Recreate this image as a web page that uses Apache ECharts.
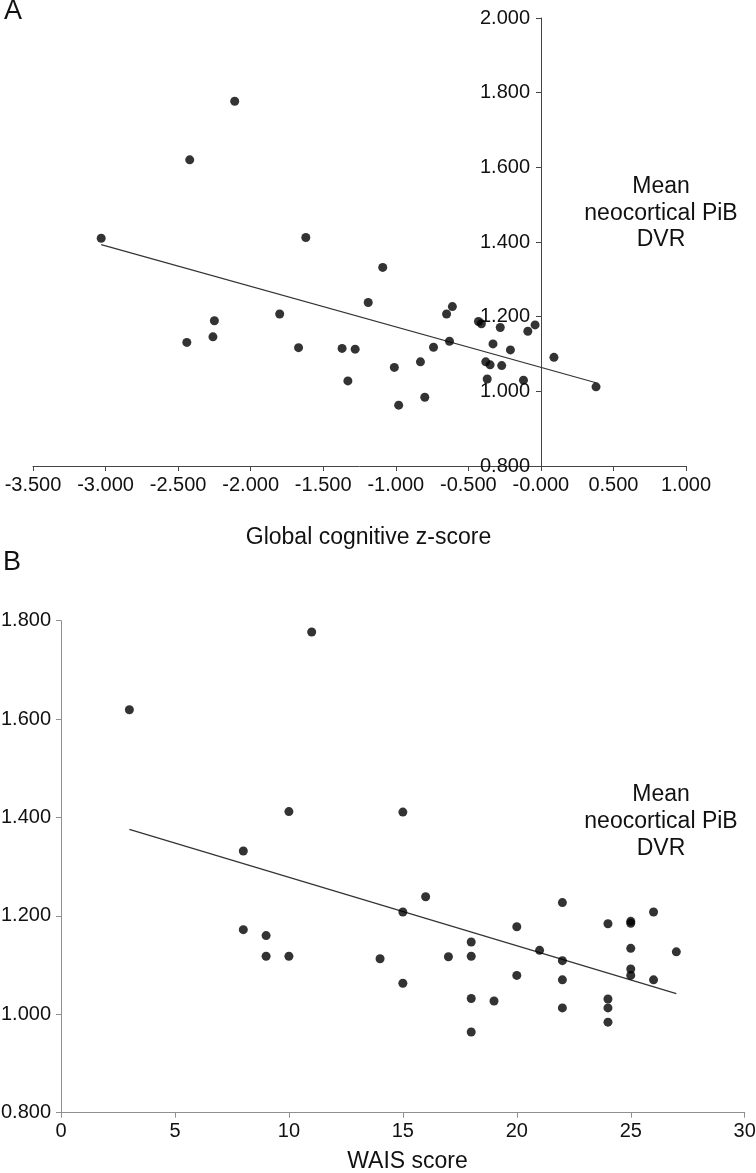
<!DOCTYPE html>
<html>
<head>
<meta charset="utf-8">
<script src="https://cdn.jsdelivr.net/npm/echarts@6/dist/echarts.min.js"></script>
<style>
html,body{margin:0;padding:0;background:#fff;}
#chart{width:756px;height:1173px;}
</style>
</head>
<body>
<div id="chart"></div>
<script>
// ---- Panel A data: global cognitive z-score vs mean neocortical PiB DVR ----
var zScoreA = [-3.03,-2.44,-2.42,-2.26,-2.25,-2.11,-1.80,-1.67,-1.62,-1.37,-1.33,-1.28,-1.19,-1.09,-1.01,-0.98,-0.83,-0.80,-0.74,-0.65,-0.63,-0.61,-0.43,-0.41,-0.38,-0.37,-0.35,-0.33,-0.28,-0.27,-0.21,-0.12,-0.09,-0.04,0.09,0.38];
var dvrA    = [1.410,1.131,1.620,1.146,1.189,1.777,1.207,1.117,1.412,1.115,1.028,1.113,1.238,1.332,1.064,0.963,1.079,0.984,1.118,1.207,1.134,1.227,1.187,1.181,1.079,1.033,1.071,1.127,1.171,1.069,1.111,1.030,1.161,1.178,1.091,1.012];
var trendXA = [-3.03, 0.38];
var trendYA = [1.393, 1.023];
var xTicksA = ['-3.500','-3.000','-2.500','-2.000','-1.500','-1.000','-0.500','-0.000','0.500','1.000'];
var yTicksA = ['0.800','1.000','1.200','1.400','1.600','1.800','2.000'];

// ---- Panel B data: WAIS score vs mean neocortical PiB DVR ----
var waisB = [3,11,10,10,8,8,9,9,14,15,15,15,16,17,18,18,18,18,19,20,20,21,22,22,22,22,24,24,24,24,25,25,25,25,25,26,26,27];
var dvrB  = [1.619,1.777,1.412,1.118,1.332,1.172,1.160,1.118,1.113,1.411,1.208,1.063,1.239,1.117,1.147,1.118,1.032,0.964,1.027,1.178,1.079,1.130,1.227,1.109,1.070,1.013,1.184,1.031,1.013,0.984,1.189,1.185,1.134,1.092,1.079,1.208,1.070,1.127];
var trendXB = [3, 27];
var trendYB = [1.376, 1.042];
var xTicksB = ['0','5','10','15','20','25','30'];
var yTicksB = ['0.800','1.000','1.200','1.400','1.600','1.800'];

var panelLabels = ['A','B'];
var yNameLines = ['Mean','neocortical PiB','DVR'];
var xNameA = 'Global cognitive z-score';
var xNameB = 'WAIS score';

function zip(a,b){ return a.map(function(v,i){ return [v,b[i]]; }); }
function tickFmt(arr, min, step){
  return function(v){ var i = Math.round((v-min)/step); return arr[i] !== undefined ? arr[i] : ''; };
}

var FONT = 'Liberation Sans, Arial, sans-serif';
var colA = '#454545', colB = '#8f8f8f';

var chart = echarts.init(document.getElementById('chart'), null, {renderer:'canvas'});

var gridA = {left:33, top:18, width:653, height:448};
// y axis of panel A sits at x = 0 of its x axis (pixel 541)
var yAxisAOffset = -(541 - gridA.left);

function axis(extra, color, margin, fmt){
  return Object.assign({
    type:'value',
    axisLine:{show:true, onZero:false, lineStyle:{color:color, width:1}},
    axisTick:{show:true, inside:false, length:5, lineStyle:{color:color}},
    axisLabel:{color:'#111', fontSize:20, fontFamily:FONT, margin:margin, formatter:fmt, hideOverlap:false, showMinLabel:true, showMaxLabel:true},
    splitLine:{show:false}
  }, extra);
}

var option = {
  backgroundColor:'#fff',
  animation:false,
  grid:[
    Object.assign({containLabel:false, outerBoundsMode:'none'}, gridA),
    {left:61, top:620.7, width:683.7, height:492, containLabel:false, outerBoundsMode:'none'}
  ],
  xAxis:[
    axis({gridIndex:0, min:-3.5, max:1.0, interval:0.5}, colA, 9, tickFmt(xTicksA,-3.5,0.5)),
    axis({gridIndex:1, min:0, max:30, interval:5}, colB, 9, tickFmt(xTicksB,0,5))
  ],
  yAxis:[
    axis({gridIndex:0, min:0.8, max:2.0, interval:0.2, position:'left', offset:yAxisAOffset}, colA, 11, tickFmt(yTicksA,0.8,0.2)),
    axis({gridIndex:1, min:0.8, max:1.8, interval:0.2, position:'left'}, colB, 10, tickFmt(yTicksB,0.8,0.2))
  ],
  series:[
    {type:'line', xAxisIndex:0, yAxisIndex:0, data:zip(trendXA,trendYA), symbol:'none',
     lineStyle:{color:'#333', width:1.2}, z:2, silent:true},
    {type:'scatter', xAxisIndex:0, yAxisIndex:0, data:zip(zScoreA,dvrA), symbol:'circle', symbolSize:9,
     itemStyle:{color:'#000'}, z:3},
    {type:'line', xAxisIndex:1, yAxisIndex:1, data:zip(trendXB,trendYB), symbol:'none',
     lineStyle:{color:'#333', width:1.2}, z:2, silent:true},
    {type:'scatter', xAxisIndex:1, yAxisIndex:1, data:zip(waisB,dvrB), symbol:'circle', symbolSize:9,
     itemStyle:{color:'#000'}, z:3}
  ],
  graphic:[
    {type:'text', left:4, top:-2, style:{text:panelLabels[0], fill:'#111', font:'27px '+FONT}},
    {type:'text', left:3, top:549, style:{text:panelLabels[1], fill:'#111', font:'27px '+FONT}},
    {type:'text', x:661, y:187, style:{text:yNameLines[0], fill:'#111', font:'23px '+FONT, textAlign:'center', textVerticalAlign:'middle'}},
    {type:'text', x:661, y:213.5, style:{text:yNameLines[1], fill:'#111', font:'23px '+FONT, textAlign:'center', textVerticalAlign:'middle'}},
    {type:'text', x:661, y:240, style:{text:yNameLines[2], fill:'#111', font:'23px '+FONT, textAlign:'center', textVerticalAlign:'middle'}},
    {type:'text', x:661, y:795, style:{text:yNameLines[0], fill:'#111', font:'23px '+FONT, textAlign:'center', textVerticalAlign:'middle'}},
    {type:'text', x:661, y:822, style:{text:yNameLines[1], fill:'#111', font:'23px '+FONT, textAlign:'center', textVerticalAlign:'middle'}},
    {type:'text', x:661, y:849, style:{text:yNameLines[2], fill:'#111', font:'23px '+FONT, textAlign:'center', textVerticalAlign:'middle'}},
    {type:'text', x:368.5, y:538, style:{text:xNameA, fill:'#111', font:'23px '+FONT, textAlign:'center', textVerticalAlign:'middle'}},
    {type:'text', x:407.5, y:1162, style:{text:xNameB, fill:'#111', font:'23px '+FONT, textAlign:'center', textVerticalAlign:'middle'}}
  ]
};
chart.setOption(option);
</script>
</body>
</html>
